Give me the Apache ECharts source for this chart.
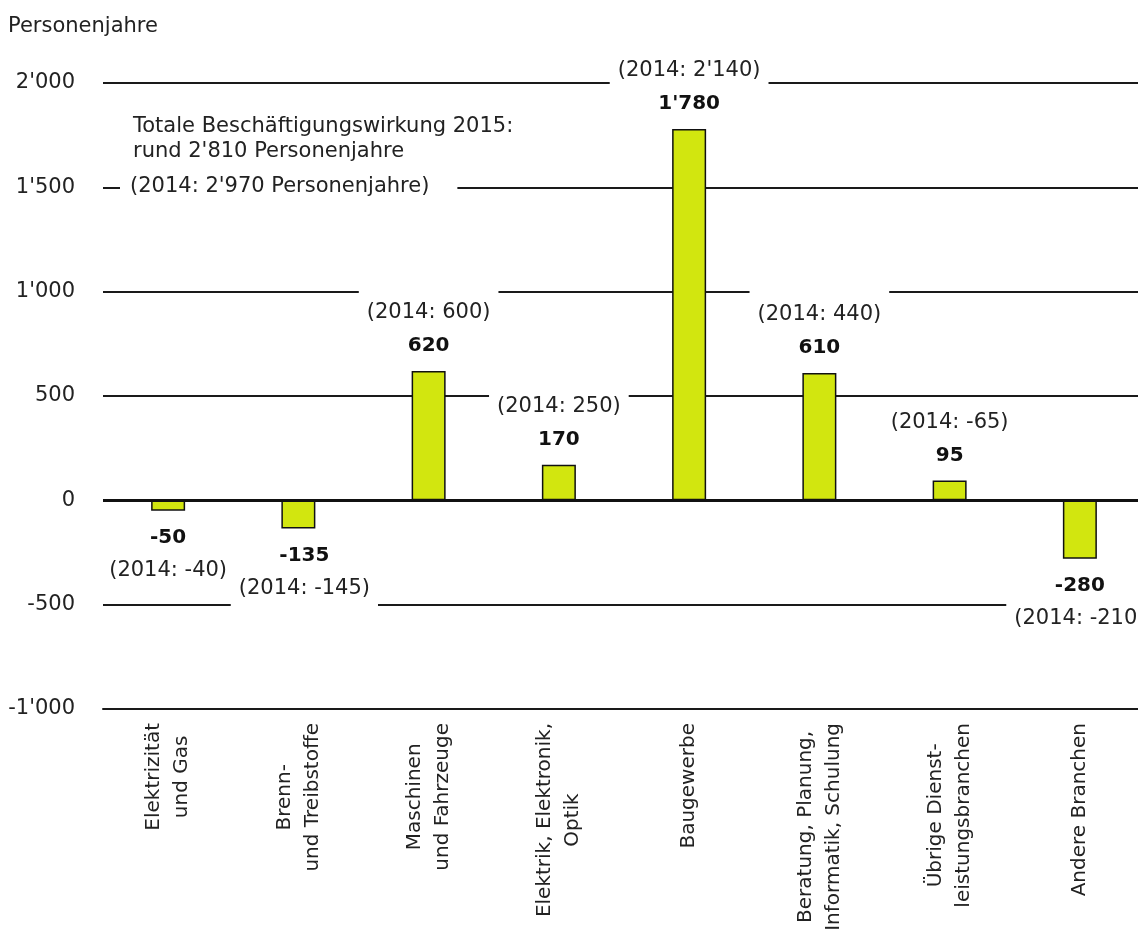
<!DOCTYPE html>
<html>
<head>
<meta charset="utf-8">
<script src="https://cdn.jsdelivr.net/npm/echarts@6/dist/echarts.min.js"></script>
<style>
  html, body { margin: 0; padding: 0; background: #fff; }
  #chart { width: 1138px; height: 933px; }
</style>
</head>
<body>
<div id="chart"></div>
<script>
const categories = [
  'Elektrizität\nund Gas',
  'Brenn-\nund Treibstoffe',
  'Maschinen\nund Fahrzeuge',
  'Elektrik, Elektronik,\nOptik',
  'Baugewerbe',
  'Beratung, Planung,\nInformatik, Schulung',
  'Übrige Dienst-\nleistungsbranchen',
  'Andere Branchen'
]
const values2015 = [-50, -135, 620, 170, 1780, 610, 95, -280]
const values2014 = [-40, -145, 600, 250, 2140, 440, -65, -210]

const font = 'DejaVu Sans'
const textColor = '#222'

// 2'000 style numbers
function fmt(v) {
  const s = String(Math.abs(v)).replace(/\B(?=(\d{3})+(?!\d))/g, "'")
  return (v < 0 ? '-' : '') + s
}

const barData = values2015.map((v, i) => {
  const old = '(2014: ' + fmt(values2014[i]) + ')'
  const cur = fmt(v)
  return {
    value: v,
    label: v >= 0
      ? { position: 'top', distance: 10, formatter: '{a|' + old + '}\n{b|' + cur + '}' }
      : { position: 'bottom', distance: 12, formatter: '{b|' + cur + '}\n{a|' + old + '}' }
  }
})
// Brenn- und Treibstoffe label sits a bit to the right so it doesn't clash with its neighbour
barData[1].label.offset = [6, 0]

const chart = echarts.init(document.getElementById('chart'))
chart.setOption({
  animation: false,
  textStyle: { fontFamily: font },
  grid: { left: 103, right: -7, top: 83, bottom: 224, outerBoundsMode: 'none' },
  xAxis: {
    type: 'category',
    data: categories,
    axisLine: { onZero: false, lineStyle: { color: '#1a1a1a', width: 2 } },
    axisTick: { show: false },
    axisLabel: {
      rotate: 90,
      interval: 0,
      margin: 14,
      align: 'right',
      // lines centred on each other, block anchored at the axis
      formatter: v => v.split('\n').map(l => '{c|' + l + '}').join('\n'),
      rich: {
        c: { align: 'center', fontSize: 20, lineHeight: 28, color: textColor, fontFamily: font }
      }
    }
  },
  yAxis: {
    type: 'value',
    min: -1000,
    max: 2000,
    interval: 500,
    axisLine: { show: false },
    axisTick: { show: false },
    axisLabel: {
      margin: 28,
      fontSize: 21,
      color: textColor,
      fontFamily: font,
      formatter: fmt
    },
    splitLine: { lineStyle: { color: '#1a1a1a', width: 2 } }
  },
  graphic: [
    {
      type: 'text', left: 8, top: 16, z: 100,
      style: { text: 'Personenjahre', fontSize: 21, fontFamily: font, fill: textColor }
    },
    {
      type: 'text', left: 133, top: 114, z: 100,
      style: {
        text: "Totale Beschäftigungswirkung 2015:\nrund 2'810 Personenjahre",
        fontSize: 21, lineHeight: 25, fontFamily: font, fill: textColor
      }
    },
    {
      type: 'text', left: 120, top: 164, z: 100,
      style: {
        text: "(2014: 2'970 Personenjahre)",
        fontSize: 21, fontFamily: font, fill: textColor,
        backgroundColor: '#fff', padding: [12, 28, 12, 10]
      }
    }
  ],
  series: [{
    type: 'bar',
    data: barData,
    barWidth: 34,
    itemStyle: { color: '#d2e60f', borderColor: '#111', borderWidth: 1.5 },
    label: {
      show: true,
      fontFamily: font,
      color: textColor,
      rich: {
        a: { fontSize: 21, lineHeight: 36, color: textColor, fontFamily: font,
             backgroundColor: '#fff', padding: [15, 8] },
        b: { fontSize: 20, lineHeight: 30, fontWeight: 'bold', color: '#111', fontFamily: font }
      }
    },
    markLine: {
      silent: true,
      symbol: 'none',
      label: { show: false },
      lineStyle: { color: '#111', width: 3, type: 'solid' },
      data: [{ yAxis: 0 }]
    }
  }]
})
</script>
</body>
</html>
